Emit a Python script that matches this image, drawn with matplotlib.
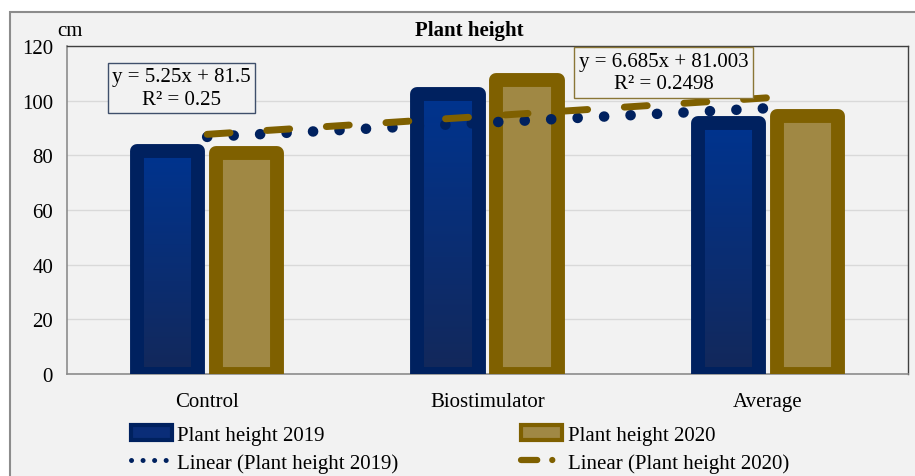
import numpy as np
import matplotlib
matplotlib.use("Agg")
import matplotlib.pyplot as plt
from matplotlib.patches import Rectangle
from matplotlib.lines import Line2D
from matplotlib.colors import LinearSegmentedColormap

# data (2019 / 2020 plant height, cm)
categories = ["Control", "Biostimulator", "Average"]
height_2019 = [81.5, 102.5, 92.0]
height_2020 = [81.0, 107.74, 94.37]
yticks = [0, 20, 40, 60, 80, 100, 120]
eq_2019 = "y = 5.25x + 81.5\nR² = 0.25"
eq_2020 = "y = 6.685x + 81.003\nR² = 0.2498"

plt.rcParams['font.family'] = ['Liberation Serif', 'DejaVu Serif']
FS = 15

NAVY = '#00215f'
GOLD = '#7f6000'
GOLD_FILL = '#a08844'
BG = '#f2f2f2'

fig = plt.figure(figsize=(9.15, 4.77), dpi=100)
fig.patch.set_facecolor('white')
# chart area frame (gray border, light fill)
fig.patches.append(Rectangle((10/915, -0.1), 1.0, (477-13)/477 + 0.1, transform=fig.transFigure,
                             facecolor=BG, edgecolor='#8c8c8c', lw=1.5, zorder=-1))

ax = fig.add_axes([67/915, 102/477, 841/915, 328/477])
ax.set_facecolor(BG)

x = np.arange(1, len(categories) + 1)
off = 0.141
w = 0.218

bars19 = ax.bar(x - off, height_2019, w, facecolor='none', edgecolor=NAVY, lw=10,
                joinstyle='round', zorder=3)
bars20 = ax.bar(x + off, height_2020, w, facecolor=GOLD_FILL, edgecolor=GOLD, lw=10,
                joinstyle='round', zorder=3)

# gradient fill inside 2019 bars
cmap = LinearSegmentedColormap.from_list('blu', ['#13285a', '#00348f'])
grad = np.linspace(0, 1, 256).reshape(-1, 1)
for b in bars19:
    x0, y0 = b.get_x(), b.get_y()
    im = ax.imshow(grad, extent=[x0, x0 + b.get_width(), y0, y0 + b.get_height()],
                   origin='lower', cmap=cmap, aspect='auto', zorder=2.5)
    clip = Rectangle((x0, y0), b.get_width(), b.get_height(), transform=ax.transData)
    im.set_clip_path(clip)

# linear trendlines over the category positions
p19 = np.polyfit(x, height_2019, 1)
p20 = np.polyfit(x, height_2020, 1)
tl19, = ax.plot(x, np.polyval(p19, x), color=NAVY, lw=7.6, zorder=4,
                dash_capstyle='round', solid_capstyle='round')
tl19.set_dashes((0.01, 2.5))
tl20, = ax.plot(x, np.polyval(p20, x), color=GOLD, lw=5, zorder=5,
                dash_capstyle='round')
tl20.set_dashes((3.3, 5.3))

ax.set_xlim(0.5, 3.5)
ax.set_ylim(0, 120)
ax.set_yticks(yticks)
ax.set_xticks(x)
ax.set_xticklabels(categories, fontsize=FS)
ax.tick_params(axis='y', length=0, pad=10, labelsize=FS)
ax.tick_params(axis='x', length=0, pad=13)
ax.grid(axis='y', color='#d9d9d9', lw=1, zorder=0)
ax.set_axisbelow(True)
for s in ['left', 'bottom']:
    ax.spines[s].set_color('#8c8c8c')
    ax.spines[s].set_linewidth(1.2)
for s in ['top', 'right']:
    ax.spines[s].set_color('#404040')
    ax.spines[s].set_linewidth(1)

# equation boxes
ax.text(0.9085, 104.6, eq_2019, ha='center', va='center', fontsize=FS, linespacing=1.25, zorder=6,
        bbox=dict(boxstyle='square,pad=0.22', facecolor=BG, edgecolor='#3f4f6b', lw=1))
ax.text(2.628, 110.3, eq_2020, ha='center', va='center', fontsize=FS, linespacing=1.25, zorder=6,
        bbox=dict(boxstyle='square,pad=0.22', facecolor=BG, edgecolor='#8a7636', lw=1))

fig.text(469/915, 1 - 31/477, "Plant height", ha='center', va='center', fontsize=FS, fontweight='bold')
fig.text(70/915, 1 - 31/477, "cm", ha='center', va='center', fontsize=FS)

# legend with small proxy handles
b19 = Rectangle((0, 0), 1, 1, facecolor='#0a2d78', edgecolor=NAVY, lw=3, joinstyle='round')
b20 = Rectangle((0, 0), 1, 1, facecolor=GOLD_FILL, edgecolor=GOLD, lw=3, joinstyle='round')
h19 = Line2D([], [], color=NAVY, lw=3.6, dash_capstyle='round')
h19.set_dashes((0.01, 2.3))
h20 = Line2D([], [], color=GOLD, lw=4.5, dash_capstyle='round')
h20.set_dashes((2.6, 2.4, 0.01, 1.6))
leg = fig.legend([b19, h19, b20, h20],
                 ['Plant height 2019', 'Linear (Plant height 2019)',
                  'Plant height 2020', 'Linear (Plant height 2020)'],
                 ncol=2, loc='upper left', bbox_to_anchor=(131/915, 1 - 426/477),
                 frameon=False, fontsize=FS, handlelength=1.97, handletextpad=0.25,
                 columnspacing=5.9, labelspacing=0.4, borderpad=0, borderaxespad=0)

fig.savefig('out.png', dpi=100, facecolor=fig.get_facecolor())
